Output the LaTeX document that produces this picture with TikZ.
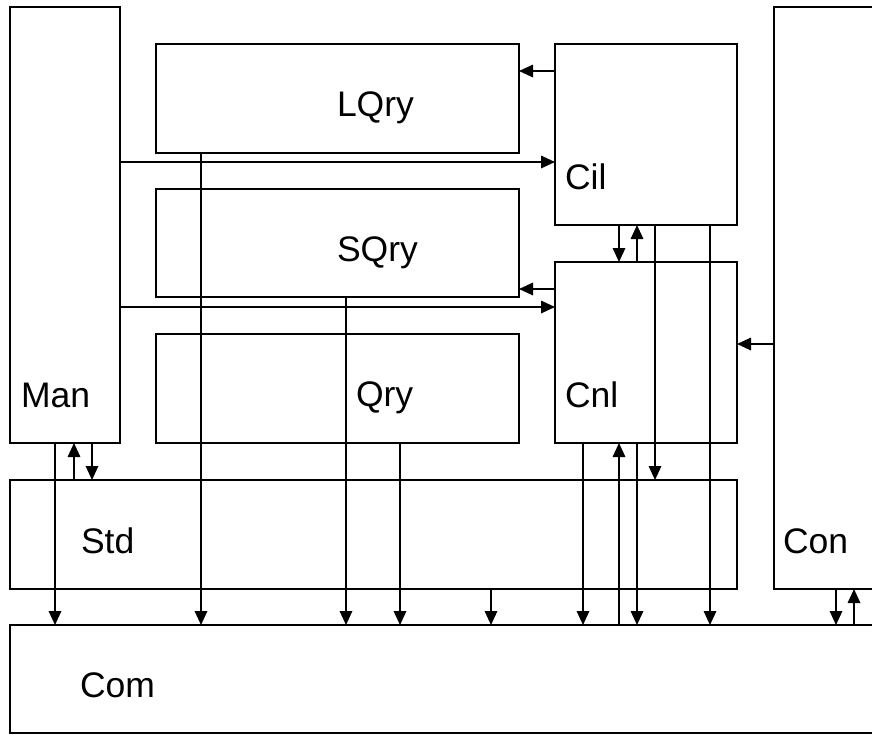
\documentclass[tikz,border=0pt]{standalone}
\usepackage{fontspec}
\setmainfont{Liberation Sans}
\usetikzlibrary{arrows.meta}
\tikzset{
  box/.style={draw, line width=2.2pt, rectangle, inner sep=0pt, outer sep=0pt, anchor=north west},
  lbl/.style={anchor=base west, inner sep=0pt, outer sep=0pt, font=\fontsize{35.5}{42}\selectfont},
  conn/.style={line width=1.7pt, -{Triangle[length=14pt,width=12.5pt]}}
}
\begin{document}
\begin{tikzpicture}[x=1pt,y=-1pt]
\useasboundingbox (0,0) rectangle (872,734);
\clip (0,0) rectangle (872,734);
\fill[white] (0,0) rectangle (872,734);
% boxes
\node[box, minimum width=110pt, minimum height=436pt] (man) at (10,7) {};
\node[box, minimum width=363pt, minimum height=109pt] (lqry) at (156,44) {};
\node[box, minimum width=363pt, minimum height=108pt] (sqry) at (156,189) {};
\node[box, minimum width=363pt, minimum height=109pt] (qry) at (156,334) {};
\node[box, minimum width=182pt, minimum height=181pt] (cil) at (555,44) {};
\node[box, minimum width=182pt, minimum height=181pt] (cnl) at (555,262) {};
\node[box, minimum width=120pt, minimum height=582pt] (con) at (774,7) {};
\node[box, minimum width=727pt, minimum height=109pt] (std) at (10,480) {};
\node[box, minimum width=880pt, minimum height=108pt] (com) at (10,625) {};
% labels
\node[lbl] (lqrylbl) at (337,116) {LQry};
\node[lbl] (sqrylbl) at (337,261) {SQry};
\node[lbl] (qrylbl) at (356,406) {Qry};
\node[lbl] (manlbl) at (21,407) {Man};
\node[lbl] (cillbl) at (565,189) {Cil};
\node[lbl] (cnllbl) at (565,407) {Cnl};
\node[lbl] (stdlbl) at (81,553) {Std};
\node[lbl] (conlbl) at (783,553) {Con};
\node[lbl] (comlbl) at (80,697) {Com};
% x positions
\coordinate (x55) at (55,0);
\coordinate (x74) at (74,0);
\coordinate (x92) at (92,0);
\coordinate (x201) at (201,0);
\coordinate (x346) at (346,0);
\coordinate (x400) at (400,0);
\coordinate (x491) at (491,0);
\coordinate (x583) at (583,0);
\coordinate (x619) at (619,0);
\coordinate (x637) at (637,0);
\coordinate (x655) at (655,0);
\coordinate (x710) at (710,0);
\coordinate (x836) at (836,0);
\coordinate (x854) at (854,0);
% y positions
\coordinate (y71) at (0,71);
\coordinate (y162) at (0,162);
\coordinate (y289) at (0,289);
\coordinate (y307) at (0,307);
\coordinate (y344) at (0,344);
% vertical connectors
\draw[conn] (man.south -| x55) -- (com.north -| x55);
\draw[conn] (std.north -| x74) -- (man.south -| x74);
\draw[conn] (man.south -| x92) -- (std.north -| x92);
\draw[conn] (lqry.south -| x201) -- (com.north -| x201);
\draw[conn] (sqry.south -| x346) -- (com.north -| x346);
\draw[conn] (qry.south -| x400) -- (com.north -| x400);
\draw[conn] (std.south -| x491) -- (com.north -| x491);
\draw[conn] (cnl.south -| x583) -- (com.north -| x583);
\draw[conn] (com.north -| x619) -- (cnl.south -| x619);
\draw[conn] (cnl.south -| x637) -- (com.north -| x637);
\draw[conn] (cil.south -| x619) -- (cnl.north -| x619);
\draw[conn] (cnl.north -| x637) -- (cil.south -| x637);
\draw[conn] (cil.south -| x655) -- (std.north -| x655);
\draw[conn] (cil.south -| x710) -- (com.north -| x710);
\draw[conn] (con.south -| x836) -- (com.north -| x836);
\draw[conn] (com.north -| x854) -- (con.south -| x854);
% horizontal connectors
\draw[conn] (cil.west |- y71) -- (lqry.east |- y71);
\draw[conn] (man.east |- y162) -- (cil.west |- y162);
\draw[conn] (cnl.west |- y289) -- (sqry.east |- y289);
\draw[conn] (man.east |- y307) -- (cnl.west |- y307);
\draw[conn] (con.west |- y344) -- (cnl.east |- y344);
\end{tikzpicture}
\end{document}
